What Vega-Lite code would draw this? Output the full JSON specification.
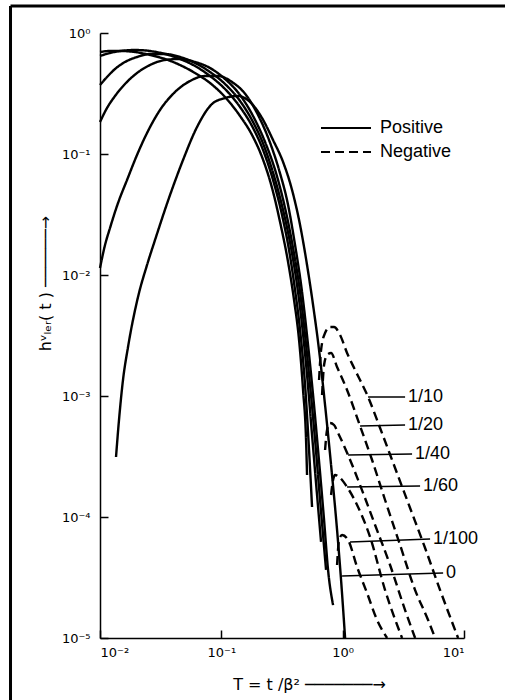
{
  "$schema": "https://vega.github.io/schema/vega-lite/v6.json",
  "width": 364,
  "height": 605,
  "autosize": {"type": "none"},
  "padding": {"left": 100, "top": 33, "right": 41, "bottom": 62},
  "background": "white",
  "config": {
    "view": {"stroke": null},
    "axis": {
      "tickSize": -8, "tickColor": "black", "tickWidth": 1.5,
      "domainColor": "black", "domainWidth": 1.5, "grid": false,
      "labelFont": "DejaVu Sans", "labelFontSize": 13, "labelColor": "black",
      "titleFont": "DejaVu Sans", "titleFontSize": 16, "titleFontWeight": "normal", "titleColor": "black",
      "titleAlign": "center", "titleBaseline": "middle"
    }
  },
  "datasets": {
    "curves": [
      {"c":"1/10","s":"Positive","T":0.01,"h":0.6966},{"c":"1/10","s":"Positive","T":0.01209,"h":0.71},{"c":"1/10","s":"Positive","T":0.01462,"h":0.71},{"c":"1/10","s":"Positive","T":0.01943,"h":0.6966},{"c":"1/10","s":"Positive","T":0.02584,"h":0.658},{"c":"1/10","s":"Positive","T":0.03435,"h":0.6097},{"c":"1/10","s":"Positive","T":0.04566,"h":0.5439},{"c":"1/10","s":"Positive","T":0.06071,"h":0.467},{"c":"1/10","s":"Positive","T":0.08069,"h":0.3861},{"c":"1/10","s":"Positive","T":0.1073,"h":0.2958},{"c":"1/10","s":"Positive","T":0.1426,"h":0.2061},{"c":"1/10","s":"Positive","T":0.1791,"h":0.1436},{"c":"1/10","s":"Positive","T":0.2165,"h":0.09445},{"c":"1/10","s":"Positive","T":0.2618,"h":0.05236},{"c":"1/10","s":"Positive","T":0.3048,"h":0.02742},{"c":"1/10","s":"Positive","T":0.3548,"h":0.01281},{"c":"1/10","s":"Positive","T":0.3975,"h":0.006215},{"c":"1/10","s":"Positive","T":0.4371,"h":0.002903},{"c":"1/10","s":"Positive","T":0.4716,"h":0.001121},{"c":"1/10","s":"Positive","T":0.4992,"h":0.000433},{"c":"1/10","s":"Positive","T":0.5087,"h":0.0002224},
      {"c":"1/10","s":"Negative","T":0.6388,"h":0.001356},{"c":"1/10","s":"Negative","T":0.6636,"h":0.0024},{"c":"1/10","s":"Negative","T":0.716,"h":0.003317},{"c":"1/10","s":"Negative","T":0.7872,"h":0.003717},{"c":"1/10","s":"Negative","T":0.8494,"h":0.003717},{"c":"1/10","s":"Negative","T":0.9519,"h":0.003192},{"c":"1/10","s":"Negative","T":1.087,"h":0.002267},{"c":"1/10","s":"Negative","T":1.266,"h":0.00164},{"c":"1/10","s":"Negative","T":1.62,"h":0.0009811},{"c":"1/10","s":"Negative","T":2.034,"h":0.0005438},{"c":"1/10","s":"Negative","T":2.704,"h":0.0002541},{"c":"1/10","s":"Negative","T":3.594,"h":0.0001187},{"c":"1/10","s":"Negative","T":4.779,"h":0.0000554},{"c":"1/10","s":"Negative","T":6.353,"h":0.0000249},{"c":"1/10","s":"Negative","T":8.941,"h":0.00001},
      {"c":"1/20","s":"Positive","T":0.01,"h":0.6456},{"c":"1/20","s":"Positive","T":0.01209,"h":0.6835},{"c":"1/20","s":"Positive","T":0.01462,"h":0.71},{"c":"1/20","s":"Positive","T":0.01943,"h":0.7236},{"c":"1/20","s":"Positive","T":0.02584,"h":0.71},{"c":"1/20","s":"Positive","T":0.03435,"h":0.6706},{"c":"1/20","s":"Positive","T":0.04566,"h":0.6097},{"c":"1/20","s":"Positive","T":0.06071,"h":0.5337},{"c":"1/20","s":"Positive","T":0.08069,"h":0.4411},{"c":"1/20","s":"Positive","T":0.1073,"h":0.3444},{"c":"1/20","s":"Positive","T":0.1426,"h":0.2446},{"c":"1/20","s":"Positive","T":0.1791,"h":0.1703},{"c":"1/20","s":"Positive","T":0.2207,"h":0.1079},{"c":"1/20","s":"Positive","T":0.2668,"h":0.06097},{"c":"1/20","s":"Positive","T":0.3165,"h":0.03132},{"c":"1/20","s":"Positive","T":0.3615,"h":0.01609},{"c":"1/20","s":"Positive","T":0.4051,"h":0.007516},{"c":"1/20","s":"Positive","T":0.4455,"h":0.003512},{"c":"1/20","s":"Positive","T":0.4898,"h":0.001233},{"c":"1/20","s":"Positive","T":0.5284,"h":0.0003579},{"c":"1/20","s":"Positive","T":0.5593,"h":0.000121},
      {"c":"1/20","s":"Negative","T":0.6763,"h":0.001019},{"c":"1/20","s":"Negative","T":0.7026,"h":0.001804},{"c":"1/20","s":"Negative","T":0.7437,"h":0.002182},{"c":"1/20","s":"Negative","T":0.8024,"h":0.002267},{"c":"1/20","s":"Negative","T":0.8992,"h":0.001737},{"c":"1/20","s":"Negative","T":1.087,"h":0.001121},{"c":"1/20","s":"Negative","T":1.391,"h":0.000565},{"c":"1/20","s":"Negative","T":1.747,"h":0.0002958},{"c":"1/20","s":"Negative","T":2.236,"h":0.0001382},{"c":"1/20","s":"Negative","T":2.973,"h":0.0000587},{"c":"1/20","s":"Negative","T":3.954,"h":0.0000249},{"c":"1/20","s":"Negative","T":5.058,"h":0.0000141},{"c":"1/20","s":"Negative","T":5.778,"h":0.00001},
      {"c":"1/40","s":"Positive","T":0.01,"h":0.3717},{"c":"1/40","s":"Positive","T":0.01142,"h":0.4327},{"c":"1/40","s":"Positive","T":0.0133,"h":0.504},{"c":"1/40","s":"Positive","T":0.01607,"h":0.5759},{"c":"1/40","s":"Positive","T":0.02018,"h":0.6334},{"c":"1/40","s":"Positive","T":0.02584,"h":0.6706},{"c":"1/40","s":"Positive","T":0.03435,"h":0.6706},{"c":"1/40","s":"Positive","T":0.04566,"h":0.6334},{"c":"1/40","s":"Positive","T":0.06071,"h":0.5651},{"c":"1/40","s":"Positive","T":0.08069,"h":0.4761},{"c":"1/40","s":"Positive","T":0.1073,"h":0.3789},{"c":"1/40","s":"Positive","T":0.1426,"h":0.2742},{"c":"1/40","s":"Positive","T":0.1825,"h":0.1838},{"c":"1/40","s":"Positive","T":0.2249,"h":0.1164},{"c":"1/40","s":"Positive","T":0.2719,"h":0.06579},{"c":"1/40","s":"Positive","T":0.3227,"h":0.03445},{"c":"1/40","s":"Positive","T":0.3755,"h":0.01671},{"c":"1/40","s":"Positive","T":0.4208,"h":0.008268},{"c":"1/40","s":"Positive","T":0.4627,"h":0.003861},{"c":"1/40","s":"Positive","T":0.5087,"h":0.001491},{"c":"1/40","s":"Positive","T":0.5593,"h":0.0004762},{"c":"1/40","s":"Positive","T":0.615,"h":0.000152},{"c":"1/40","s":"Positive","T":0.6636,"h":0.0000622},
      {"c":"1/40","s":"Negative","T":0.716,"h":0.0003579},{"c":"1/40","s":"Negative","T":0.7437,"h":0.0005236},{"c":"1/40","s":"Negative","T":0.7872,"h":0.0005981},{"c":"1/40","s":"Negative","T":0.8494,"h":0.0005758},{"c":"1/40","s":"Negative","T":0.9165,"h":0.0004945},{"c":"1/40","s":"Negative","T":1.108,"h":0.0003254},{"c":"1/40","s":"Negative","T":1.391,"h":0.0001838},{"c":"1/40","s":"Negative","T":1.85,"h":0.0000859},{"c":"1/40","s":"Negative","T":2.459,"h":0.0000401},{"c":"1/40","s":"Negative","T":3.269,"h":0.000017},{"c":"1/40","s":"Negative","T":3.954,"h":0.00001},
      {"c":"1/60","s":"Positive","T":0.01,"h":0.1838},{"c":"1/60","s":"Positive","T":0.01142,"h":0.2399},{"c":"1/60","s":"Positive","T":0.0133,"h":0.3015},{"c":"1/60","s":"Positive","T":0.01607,"h":0.3789},{"c":"1/60","s":"Positive","T":0.02018,"h":0.467},{"c":"1/60","s":"Positive","T":0.02584,"h":0.5439},{"c":"1/60","s":"Positive","T":0.03435,"h":0.5982},{"c":"1/60","s":"Positive","T":0.04566,"h":0.6097},{"c":"1/60","s":"Positive","T":0.06071,"h":0.5759},{"c":"1/60","s":"Positive","T":0.08069,"h":0.5137},{"c":"1/60","s":"Positive","T":0.1073,"h":0.4167},{"c":"1/60","s":"Positive","T":0.1426,"h":0.3073},{"c":"1/60","s":"Positive","T":0.1825,"h":0.2061},{"c":"1/60","s":"Positive","T":0.2293,"h":0.1257},{"c":"1/60","s":"Positive","T":0.2824,"h":0.06966},{"c":"1/60","s":"Positive","T":0.3351,"h":0.03579},{"c":"1/60","s":"Positive","T":0.39,"h":0.01671},{"c":"1/60","s":"Positive","T":0.4455,"h":0.007236},{"c":"1/60","s":"Positive","T":0.4898,"h":0.003192},{"c":"1/60","s":"Positive","T":0.5384,"h":0.001233},{"c":"1/60","s":"Positive","T":0.5922,"h":0.000433},{"c":"1/60","s":"Positive","T":0.6512,"h":0.0001382},{"c":"1/60","s":"Positive","T":0.7296,"h":0.0000365},
      {"c":"1/60","s":"Negative","T":0.8024,"h":0.000152},{"c":"1/60","s":"Negative","T":0.8335,"h":0.0002022},{"c":"1/60","s":"Negative","T":0.8656,"h":0.0002224},{"c":"1/60","s":"Negative","T":0.9339,"h":0.0002141},{"c":"1/60","s":"Negative","T":1.087,"h":0.000177},{"c":"1/60","s":"Negative","T":1.315,"h":0.0001257},{"c":"1/60","s":"Negative","T":1.682,"h":0.0000684},{"c":"1/60","s":"Negative","T":2.236,"h":0.0000249},{"c":"1/60","s":"Negative","T":3.088,"h":0.00001},
      {"c":"1/100","s":"Positive","T":0.01,"h":0.01142},{"c":"1/100","s":"Positive","T":0.011,"h":0.0177},{"c":"1/100","s":"Positive","T":0.01209,"h":0.02446},{"c":"1/100","s":"Positive","T":0.01408,"h":0.03936},{"c":"1/100","s":"Positive","T":0.0167,"h":0.06097},{"c":"1/100","s":"Positive","T":0.02018,"h":0.09811},{"c":"1/100","s":"Positive","T":0.02441,"h":0.1491},{"c":"1/100","s":"Positive","T":0.03123,"h":0.2311},{"c":"1/100","s":"Positive","T":0.04153,"h":0.3254},{"c":"1/100","s":"Positive","T":0.05521,"h":0.4012},{"c":"1/100","s":"Positive","T":0.07338,"h":0.4411},{"c":"1/100","s":"Positive","T":0.09393,"h":0.4411},{"c":"1/100","s":"Positive","T":0.1225,"h":0.3936},{"c":"1/100","s":"Positive","T":0.1598,"h":0.3073},{"c":"1/100","s":"Positive","T":0.2007,"h":0.2101},{"c":"1/100","s":"Positive","T":0.2473,"h":0.1305},{"c":"1/100","s":"Positive","T":0.2991,"h":0.07375},{"c":"1/100","s":"Positive","T":0.3548,"h":0.0379},{"c":"1/100","s":"Positive","T":0.4051,"h":0.0177},{"c":"1/100","s":"Positive","T":0.4627,"h":0.007236},{"c":"1/100","s":"Positive","T":0.5185,"h":0.002639},{"c":"1/100","s":"Positive","T":0.5702,"h":0.001019},{"c":"1/100","s":"Positive","T":0.6269,"h":0.0003579},{"c":"1/100","s":"Positive","T":0.7026,"h":0.0000944},{"c":"1/100","s":"Positive","T":0.7579,"h":0.0000365},{"c":"1/100","s":"Positive","T":0.8335,"h":0.0000187},
      {"c":"1/100","s":"Negative","T":0.8992,"h":0.0000401},{"c":"1/100","s":"Negative","T":0.9339,"h":0.0000646},{"c":"1/100","s":"Negative","T":0.9888,"h":0.000071},{"c":"1/100","s":"Negative","T":1.108,"h":0.0000646},{"c":"1/100","s":"Negative","T":1.315,"h":0.0000386},{"c":"1/100","s":"Negative","T":1.589,"h":0.0000235},{"c":"1/100","s":"Negative","T":1.921,"h":0.0000141},{"c":"1/100","s":"Negative","T":2.323,"h":0.00001},
      {"c":"0","s":"Positive","T":0.01355,"h":0.0003132},{"c":"0","s":"Positive","T":0.01434,"h":0.000633},{"c":"0","s":"Positive","T":0.01547,"h":0.001356},{"c":"0","s":"Positive","T":0.01702,"h":0.002541},{"c":"0","s":"Positive","T":0.02057,"h":0.00658},{"c":"0","s":"Positive","T":0.02441,"h":0.01209},{"c":"0","s":"Positive","T":0.02841,"h":0.01947},{"c":"0","s":"Positive","T":0.03777,"h":0.04582},{"c":"0","s":"Positive","T":0.04834,"h":0.0892},{"c":"0","s":"Positive","T":0.06306,"h":0.1671},{"c":"0","s":"Positive","T":0.08381,"h":0.259},{"c":"0","s":"Positive","T":0.1073,"h":0.2902},{"c":"0","s":"Positive","T":0.1373,"h":0.3015},{"c":"0","s":"Positive","T":0.1724,"h":0.269},{"c":"0","s":"Positive","T":0.2165,"h":0.1984},{"c":"0","s":"Positive","T":0.2668,"h":0.1305},{"c":"0","s":"Positive","T":0.3227,"h":0.08588},{"c":"0","s":"Positive","T":0.3827,"h":0.0504},{"c":"0","s":"Positive","T":0.4455,"h":0.0259},{"c":"0","s":"Positive","T":0.5087,"h":0.01209},{"c":"0","s":"Positive","T":0.5702,"h":0.005651},{"c":"0","s":"Positive","T":0.6388,"h":0.0024},{"c":"0","s":"Positive","T":0.716,"h":0.0008425},{"c":"0","s":"Positive","T":0.8024,"h":0.0002691},{"c":"0","s":"Positive","T":0.8992,"h":0.0000781},{"c":"0","s":"Positive","T":0.9701,"h":0.0000301},{"c":"0","s":"Positive","T":1.047,"h":0.00001}
    ],
    "leaders": [
      {"label":"1/10","T":1.62,"h":0.0009811,"T2":3.269,"h2":0.0009811},
      {"label":"1/20","T":1.391,"h":0.000565,"T2":3.269,"h2":0.0005758},
      {"label":"1/40","T":1.108,"h":0.0003254,"T2":3.734,"h2":0.0003317},
      {"label":"1/60","T":1.087,"h":0.000177,"T2":4.346,"h2":0.0001804},
      {"label":"1/100","T":1.151,"h":0.0000622,"T2":5.254,"h2":0.0000658},
      {"label":"0","T":0.9888,"h":0.0000325,"T2":6.726,"h2":0.0000345}
    ]
  },
  "layer": [
    {
      "data": {"name": "curves"},
      "mark": {"type": "line", "interpolate": "monotone", "color": "black", "strokeWidth": 2.4},
      "encoding": {
        "x": {
          "field": "T", "type": "quantitative",
          "scale": {"type": "log", "domain": [0.01, 10], "nice": false},
          "axis": {
            "values": [0.01, 0.1, 1, 10],
            "labelExpr": "'10' + ['⁻⁵','⁻⁴','⁻³','⁻²','⁻¹','⁰','¹'][round(log(datum.value)/LN10)+5]",
            "labelPadding": 16,
            "title": "T = t /β² ───────→",
            "titleX": 209, "titleY": 46
          }
        },
        "y": {
          "field": "h", "type": "quantitative",
          "scale": {"type": "log", "domain": [0.00001, 1], "nice": false},
          "axis": {
            "values": [0.00001, 0.0001, 0.001, 0.01, 0.1, 1],
            "labelExpr": "'10' + ['⁻⁵','⁻⁴','⁻³','⁻²','⁻¹','⁰','¹'][round(log(datum.value)/LN10)+5]",
            "labelPadding": 18,
            "title": "hᵛₗₑᵣ( t ) ──────→",
            "titleX": -55, "titleY": 250
          }
        },
        "detail": [{"field": "c"}, {"field": "s"}],
        "strokeDash": {
          "field": "s", "type": "nominal",
          "scale": {"domain": ["Positive", "Negative"], "range": [[1, 0], [9, 5]]},
          "legend": {
            "orient": "none", "legendX": 220, "legendY": 83, "title": null,
            "symbolType": "stroke", "symbolSize": 2500, "symbolStrokeWidth": 2, "symbolStrokeColor": "black",
            "labelFont": "Liberation Sans", "labelFontSize": 18, "labelColor": "black", "labelOffset": 8,
            "clipHeight": 24, "rowPadding": 0, "padding": 0
          }
        }
      }
    },
    {
      "data": {"values": [{}]},
      "mark": {"type": "rule", "color": "black", "strokeWidth": 3},
      "encoding": {
        "x": {"datum": 0.00183, "type": "quantitative", "scale": {"type": "log", "domain": [0.01, 10], "nice": false},
          "axis": {"values": [0.01, 0.1, 1, 10], "labelExpr": "'10' + ['⁻⁵','⁻⁴','⁻³','⁻²','⁻¹','⁰','¹'][round(log(datum.value)/LN10)+5]", "labelPadding": 16, "title": "T = t /β² ───────→", "titleX": 209, "titleY": 46}},
        "x2": {"datum": 30},
        "y": {"datum": 1.671, "type": "quantitative", "scale": {"type": "log", "domain": [0.00001, 1], "nice": false},
          "axis": {"values": [0.00001, 0.0001, 0.001, 0.01, 0.1, 1], "labelExpr": "'10' + ['⁻⁵','⁻⁴','⁻³','⁻²','⁻¹','⁰','¹'][round(log(datum.value)/LN10)+5]", "labelPadding": 18, "title": "hᵛₗₑᵣ( t ) ──────→", "titleX": -55, "titleY": 250}}
      }
    },
    {
      "data": {"values": [{}]},
      "mark": {"type": "rule", "color": "black", "strokeWidth": 3},
      "encoding": {
        "x": {"datum": 0.00183, "type": "quantitative", "scale": {"type": "log", "domain": [0.01, 10], "nice": false},
          "axis": {"values": [0.01, 0.1, 1, 10], "labelExpr": "'10' + ['⁻⁵','⁻⁴','⁻³','⁻²','⁻¹','⁰','¹'][round(log(datum.value)/LN10)+5]", "labelPadding": 16, "title": "T = t /β² ───────→", "titleX": 209, "titleY": 46}},
        "y": {"datum": 1.671, "type": "quantitative", "scale": {"type": "log", "domain": [0.00001, 1], "nice": false},
          "axis": {"values": [0.00001, 0.0001, 0.001, 0.01, 0.1, 1], "labelExpr": "'10' + ['⁻⁵','⁻⁴','⁻³','⁻²','⁻¹','⁰','¹'][round(log(datum.value)/LN10)+5]", "labelPadding": 18, "title": "hᵛₗₑᵣ( t ) ──────→", "titleX": -55, "titleY": 250}},
        "y2": {"datum": 0.000002}
      }
    },
    {
      "data": {"name": "leaders"},
      "mark": {"type": "rule", "color": "black", "strokeWidth": 1.5},
      "encoding": {
        "x": {"field": "T", "type": "quantitative", "scale": {"type": "log", "domain": [0.01, 10], "nice": false},
          "axis": {"values": [0.01, 0.1, 1, 10], "labelExpr": "'10' + ['⁻⁵','⁻⁴','⁻³','⁻²','⁻¹','⁰','¹'][round(log(datum.value)/LN10)+5]", "labelPadding": 16, "title": "T = t /β² ───────→", "titleX": 209, "titleY": 46}},
        "x2": {"field": "T2"},
        "y": {"field": "h", "type": "quantitative", "scale": {"type": "log", "domain": [0.00001, 1], "nice": false},
          "axis": {"values": [0.00001, 0.0001, 0.001, 0.01, 0.1, 1], "labelExpr": "'10' + ['⁻⁵','⁻⁴','⁻³','⁻²','⁻¹','⁰','¹'][round(log(datum.value)/LN10)+5]", "labelPadding": 18, "title": "hᵛₗₑᵣ( t ) ──────→", "titleX": -55, "titleY": 250}},
        "y2": {"field": "h2"}
      }
    },
    {
      "data": {"name": "leaders"},
      "mark": {"type": "text", "align": "left", "baseline": "middle", "dx": 3, "font": "Liberation Sans", "fontSize": 18, "color": "black"},
      "encoding": {
        "x": {"field": "T2", "type": "quantitative", "scale": {"type": "log", "domain": [0.01, 10], "nice": false},
          "axis": {"values": [0.01, 0.1, 1, 10], "labelExpr": "'10' + ['⁻⁵','⁻⁴','⁻³','⁻²','⁻¹','⁰','¹'][round(log(datum.value)/LN10)+5]", "labelPadding": 16, "title": "T = t /β² ───────→", "titleX": 209, "titleY": 46}},
        "y": {"field": "h2", "type": "quantitative", "scale": {"type": "log", "domain": [0.00001, 1], "nice": false},
          "axis": {"values": [0.00001, 0.0001, 0.001, 0.01, 0.1, 1], "labelExpr": "'10' + ['⁻⁵','⁻⁴','⁻³','⁻²','⁻¹','⁰','¹'][round(log(datum.value)/LN10)+5]", "labelPadding": 18, "title": "hᵛₗₑᵣ( t ) ──────→", "titleX": -55, "titleY": 250}},
        "text": {"field": "label"}
      }
    }
  ]
}
